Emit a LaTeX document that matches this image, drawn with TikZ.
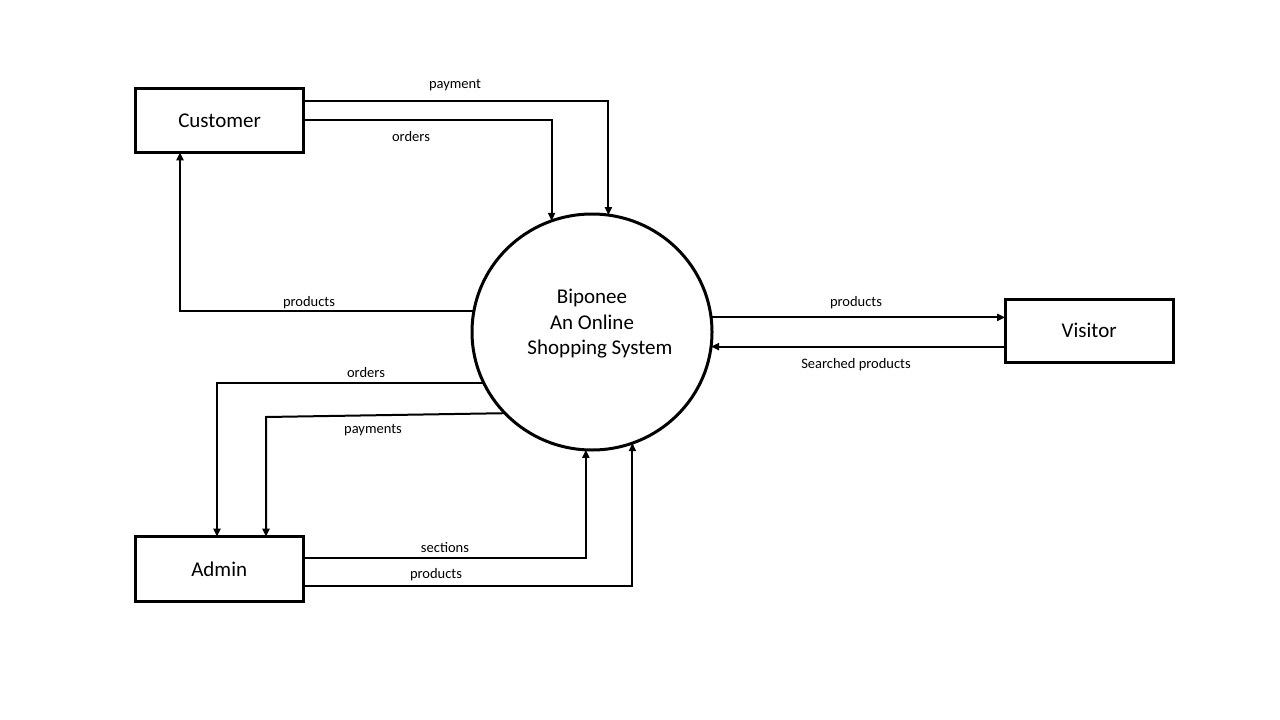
\documentclass[tikz,border=0pt]{standalone}
\usepackage{fontspec}
\setmainfont{Carlito}
\usetikzlibrary{arrows.meta,shapes.geometric}
\tikzset{
  entity/.style={draw, line width=3pt, rectangle, minimum width=168pt, minimum height=63pt, inner sep=0pt, outer sep=0pt, font=\fontsize{21}{25}\selectfont},
  proc/.style={draw, line width=3pt, ellipse, minimum width=240pt, minimum height=236pt, inner sep=0pt, outer sep=0pt},
  flow/.style={line width=2pt, -{Triangle[length=8pt,width=7pt]}},
  lbl/.style={font=\fontsize{14.5}{17}\selectfont, inner sep=0pt}
}
\begin{document}
\begin{tikzpicture}[x=1pt,y=-1pt]
\useasboundingbox[fill=white] (0,0) rectangle (1280,720);
% nodes
\node[entity, minimum height=64pt] (cust) at (219.6,120.3) {Customer};
\node[entity, minimum height=65pt] (adm) at (219.2,569.2) {Admin};
\node[entity] (vis) at (1089.2,330.8) {Visitor};
\node[proc] (c) at (592,332) {};
\node[align=center, inner sep=0pt, font=\fontsize{21}{25.5}\selectfont] (ctext) at (592,324) {Biponee\\An Online\\\hspace*{16pt}Shopping System};
% labels
\node[lbl] (l1) at (455,85.5) {payment};
\node[lbl] (l2) at (411,136.5) {orders};
\node[lbl] (l3) at (309,302.5) {products};
\node[lbl] (l4) at (856,302.5) {products};
\node[lbl] (l5) at (856,364.5) {Searched products};
\node[lbl] (l6) at (366,372.5) {orders};
\node[lbl] (l7) at (373,430) {payments};
\node[lbl] (l8) at (445,548) {sections};
\node[lbl] (l9) at (436,574.5) {products};
% connectors
\draw[flow] (cust.east |- 0,101) -| (c.82.2);
\draw[flow] (cust.east |- 0,120) -| (c.110.3);
\draw[flow] (c.170.9) -| (180,0 |- cust.south);
\draw[flow] (c.7.66) -- (vis.west |- c.7.66);
\draw[flow] (vis.west |- c.-7.66) -- (c.-7.66);
\draw[flow] (c.205.24) -| (217,0 |- adm.north);
\coordinate (pk) at (266,417);
\draw[flow] (c.223.06) -- (pk) -- (pk |- adm.north);
\draw[flow] (adm.east |- 0,558) -| (c.267.09);
\draw[flow] (adm.east |- 0,585.7) -| (c.290.3);
\end{tikzpicture}
\end{document}
